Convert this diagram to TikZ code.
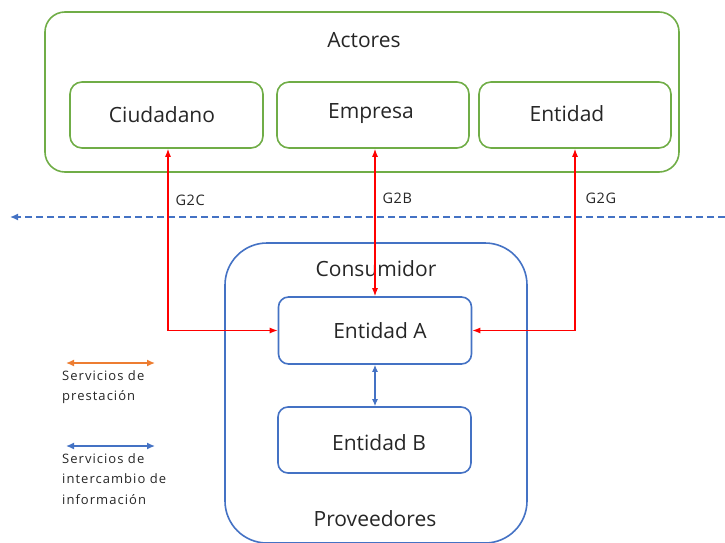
\documentclass[tikz,border=0pt]{standalone}
\usepackage{fontspec}
\setmainfont{Open Sans}
\usetikzlibrary{arrows.meta}
\definecolor{grn}{RGB}{112,173,71}
\definecolor{blu}{RGB}{68,114,196}
\definecolor{org}{RGB}{237,125,49}
\tikzset{
  greenbox/.style={draw=grn,line width=1.6pt,rounded corners=12pt},
  bluebox/.style={draw=blu,line width=1.6pt,rounded corners=10pt},
  lbl/.style={font=\fontsize{21}{24}\selectfont,text=black!85},
  small/.style={font=\fontsize{14.5}{16}\selectfont\addfontfeature{LetterSpace=4},text=black!85},
  leg/.style={font=\fontsize{13}{20.5}\selectfont\addfontfeature{LetterSpace=8},text=black!85,align=left,anchor=north west,inner sep=0pt},
  redarr/.style={draw=red,line width=1.2pt},
}
\begin{document}
\begin{tikzpicture}[x=1pt,y=-1pt]
\useasboundingbox (0,0) rectangle (725,543);
% Actores
\draw[greenbox,rounded corners=20pt] (45,12) rectangle (679,172);
\node[lbl] (actores) at (364,40) {Actores};
\node[greenbox,minimum width=193pt,minimum height=66pt] (ciud) at (166.5,115) {};
\node[lbl] (tciud) at (162,115) {Ciudadano};
\node[greenbox,minimum width=192pt,minimum height=66pt] (emp) at (373,115) {};
\node[lbl] (temp) at (371,114) {Empresa};
\node[greenbox,minimum width=192pt,minimum height=66pt] (ent) at (575,115) {};
\node[lbl] (tent) at (567,114) {Entidad};
% Consumidor
\draw[draw=blu,line width=1.6pt,rounded corners=42pt] (225,243) rectangle (527,543);
\node[lbl] (cons) at (376,269) {Consumidor};
\node[lbl] (prov) at (375,519) {Proveedores};
\node[bluebox,minimum width=193pt,minimum height=67pt] (ea) at (375,330.5) {};
\node[lbl] (tea) at (380,331) {Entidad A};
\node[bluebox,minimum width=193pt,minimum height=66pt] (eb) at (374.5,440) {};
\node[lbl] (teb) at (379,443) {Entidad B};
% dashed line
\coordinate (dl) at (10,217);
\coordinate (dr) at (725,217);
\draw[draw=blu,line width=1.4pt,dash pattern=on 7pt off 4pt,-{Latex[length=8pt,width=7pt]}] (dr) -- (dl);
% red connectors
\draw[redarr,{Latex[length=8pt,width=6pt]}-{Latex[length=8pt,width=6pt]}] (ciud.south -| 168,0) |- (ea.west);
\draw[redarr,{Latex[length=8pt,width=6pt]}-{Latex[length=8pt,width=6pt]}] (emp.south -| ea.north) -- (ea.north);
\draw[redarr,{Latex[length=8pt,width=6pt]}-{Latex[length=8pt,width=6pt]}] (ent.south -| 575,0) |- (ea.east);
\node[small,anchor=west] (g2c) at (172,200) {G2C};
\node[small,anchor=west] (g2b) at (379,198) {G2B};
\node[small,anchor=west] (g2g) at (582,198) {G2G};
% blue A-B
\draw[draw=blu,line width=1.2pt,{Latex[length=7pt,width=6pt]}-{Latex[length=7pt,width=6pt]}] (ea.south -| 375,0) -- (eb.north -| 375,0);
% legend
\coordinate (o1) at (66,363); \coordinate (o2) at (155,363);
\draw[draw=org,line width=1.4pt,{Latex[length=8pt,width=7pt]}-{Latex[length=8pt,width=7pt]}] (o1) -- (o2);
\node[leg] (l1) at (62,370) {Servicios de\\prestación};
\coordinate (b1) at (66,446); \coordinate (b2) at (155,446);
\draw[draw=blu,line width=1.4pt,{Latex[length=8pt,width=7pt]}-{Latex[length=8pt,width=7pt]}] (b1) -- (b2);
\node[leg] (l2) at (62,453) {Servicios de\\intercambio de\\información};
\end{tikzpicture}
\end{document}
